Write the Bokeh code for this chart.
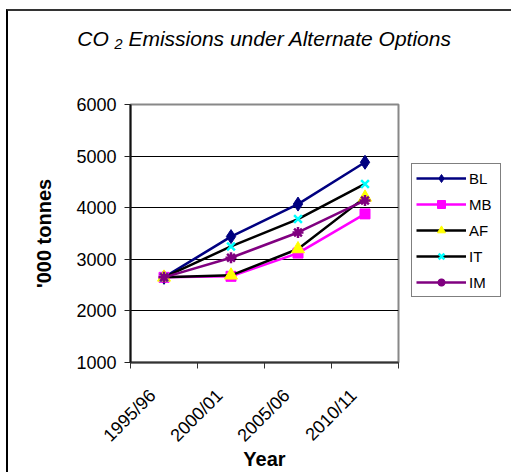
import math
from bokeh.plotting import figure
from bokeh.models import Range1d, FixedTicker, Legend, LegendItem, LinearAxis
from bokeh.embed import file_html
from bokeh.resources import INLINE

# ---- data ----
years = ["1995/96", "2000/01", "2005/06", "2010/11"]
BL = [2650, 3440, 4070, 4880]
MB = [2650, 2670, 3120, 3880]
AF = [2650, 2690, 3200, 4200]
IT = [2650, 3250, 3780, 4460]
IM = [2650, 3030, 3520, 4140]
y_ticks = [1000, 2000, 3000, 4000, 5000, 6000]
title_text = "CO \u2082 Emissions under Alternate Options"

FONT = "Liberation Sans"

xpos = [i + 0.5 for i in range(len(years))]
label_shift = -0.17  # tick labels sit slightly left of the category centre

p = figure(frame_width=268, frame_height=258,
           x_range=Range1d(0, len(years)), y_range=Range1d(1000, 6000),
           output_backend="svg", toolbar_location=None,
           min_border_left=122, min_border_top=93, min_border_right=111, min_border_bottom=110)
p.styles = {"border-left": "2px solid #000", "border-top": "2px solid #333",
            "margin-left": "6px", "margin-top": "9px"}
p.background_fill_color = "white"
p.border_fill_color = "white"
p.outline_line_color = "#888888"
p.outline_line_width = 2

xa = p.below[0]
ya = p.left[0]

# title, drawn as the label of a bare axis above the frame
tax = LinearAxis(ticker=FixedTicker(ticks=[]), axis_label=title_text,
                 axis_line_color=None, major_tick_out=0, major_tick_in=0,
                 minor_tick_out=0, minor_tick_in=0,
                 axis_label_text_font=FONT, axis_label_text_font_size="21px",
                 axis_label_text_font_style="italic", axis_label_text_color="black",
                 axis_label_standoff=55)
p.add_layout(tax, "above")

# x axis
lab_ticks = [x + label_shift for x in xpos]
xa.ticker = FixedTicker(ticks=lab_ticks, minor_ticks=list(range(len(years) + 1)))
xa.major_label_overrides = {x: y for x, y in zip(lab_ticks, years)}
xa.major_tick_out = 0
xa.major_tick_in = 0
xa.minor_tick_out = 6
xa.minor_tick_in = 0
xa.minor_tick_line_color = "#333333"
xa.minor_tick_line_width = 1
xa.major_label_orientation = math.pi / 4
xa.major_label_standoff = 24
xa.major_label_text_font = FONT
xa.major_label_text_font_size = "18px"
xa.major_label_text_color = "black"
xa.axis_line_color = "#333333"
xa.axis_line_width = 2
xa.axis_label = "Year"
xa.axis_label_text_font = FONT
xa.axis_label_text_font_size = "20px"
xa.axis_label_text_font_style = "bold"
xa.axis_label_text_color = "black"
xa.axis_label_standoff = -8

# y axis
ya.ticker = FixedTicker(ticks=y_ticks)
ya.major_tick_out = 6
ya.major_tick_in = 0
ya.minor_tick_out = 0
ya.minor_tick_in = 0
ya.major_tick_line_color = "#222222"
ya.major_label_standoff = 8
ya.major_label_text_font = FONT
ya.major_label_text_font_size = "18px"
ya.major_label_text_color = "black"
ya.axis_line_color = "#111111"
ya.axis_line_width = 2
ya.axis_label = "'000 tonnes"
ya.axis_label_text_font = FONT
ya.axis_label_text_font_size = "20px"
ya.axis_label_text_font_style = "bold"
ya.axis_label_text_color = "black"
ya.axis_label_standoff = 18

p.xgrid.grid_line_color = None
p.ygrid.ticker = FixedTicker(ticks=[t for t in y_ticks if t not in (1000, 6000)])
p.ygrid.grid_line_color = "black"
p.ygrid.grid_line_width = 1

LW = 2.5
items = []
r1 = p.line(xpos, BL, line_color="#000080", line_width=LW)
m1 = p.scatter(xpos, BL, marker="diamond", size=14, fill_color="#000080", line_color="#000080")
items.append(LegendItem(label="BL", renderers=[r1, m1]))
r2 = p.line(xpos, MB, line_color="#FF00FF", line_width=LW)
m2 = p.scatter(xpos, MB, marker="square", size=10, fill_color="#FF00FF", line_color="#FF00FF")
items.append(LegendItem(label="MB", renderers=[r2, m2]))
r3 = p.line(xpos, AF, line_color="black", line_width=LW)
m3 = p.scatter(xpos, AF, marker="triangle", size=13, fill_color="#FFFF00", line_color="#FFFF00")
items.append(LegendItem(label="AF", renderers=[r3, m3]))
r4 = p.line(xpos, IT, line_color="black", line_width=LW)
m4 = p.scatter(xpos, IT, marker="x", size=11, line_color="#00FFFF", line_width=2.5)
items.append(LegendItem(label="IT", renderers=[r4, m4]))
r5 = p.line(xpos, IM, line_color="#800080", line_width=LW)
m5 = p.scatter(xpos, IM, marker="asterisk", size=11, line_color="#800080", line_width=2.5)
items.append(LegendItem(label="IM", renderers=[r5, m5]))

legend = Legend(items=items, location=(13, 65), orientation="vertical",
                border_line_color="black", border_line_width=1,
                background_fill_color="white", background_fill_alpha=1,
                padding=4, spacing=6, margin=0,
                glyph_width=50, glyph_height=20, label_height=20, label_width=27,
                label_standoff=3, label_text_font=FONT, label_text_font_size="15px",
                label_text_color="black")
p.add_layout(legend, "right")

open("out.html", "w").write(file_html(p, INLINE))
